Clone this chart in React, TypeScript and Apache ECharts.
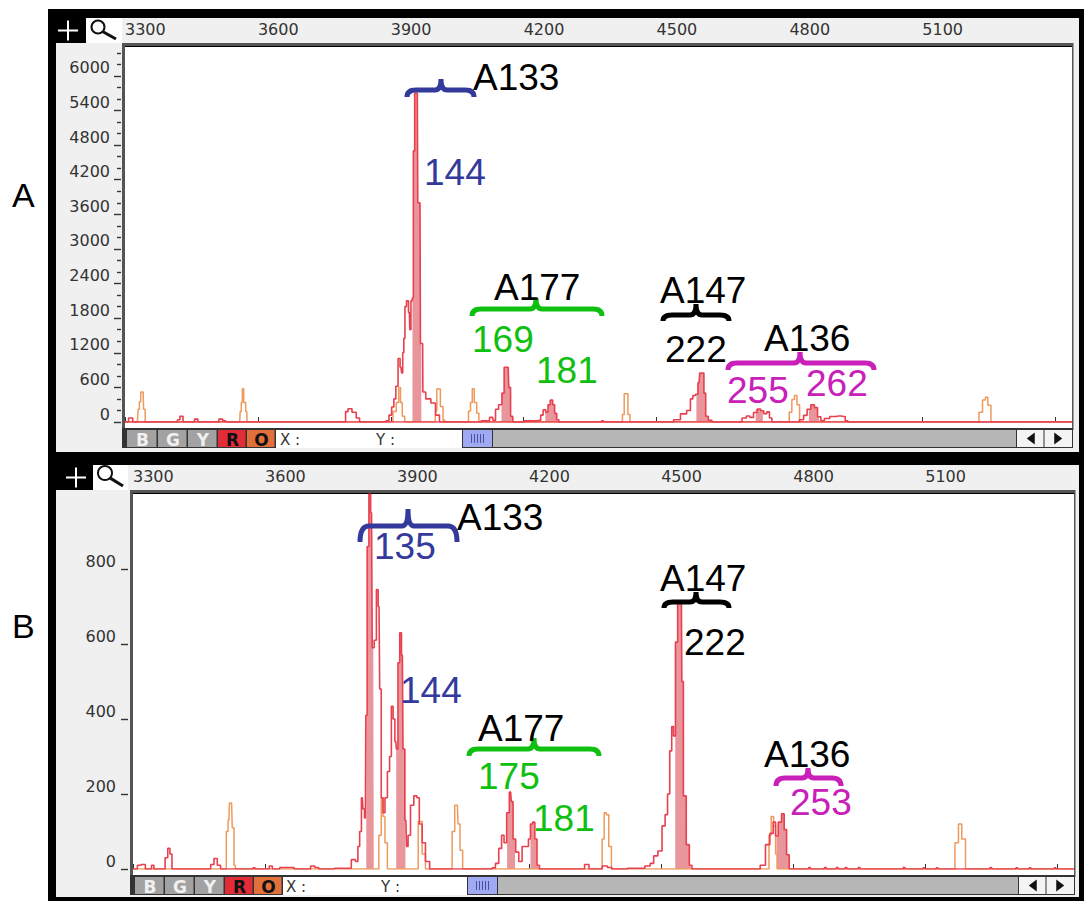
import React, { useEffect, useRef } from "react";
import * as echarts from "echarts";

type P = [number, number];

const xTickValues = [3300, 3600, 3900, 4200, 4500, 4800, 5100, 5400];
const xLabelValues = [3300, 3600, 3900, 4200, 4500, 4800, 5100];
const yTicksA = [0, 600, 1200, 1800, 2400, 3000, 3600, 4200, 4800, 5400, 6000];
const yMinorA = [200, 400, 800, 1000, 1400, 1600, 2000, 2200, 2600, 2800, 3200, 3400, 3800, 4000, 4400, 4600, 5000, 5200, 5600, 5800, 6200, 6400];
const yTicksB = [0, 200, 400, 600, 800];

const redA: P[] = [
  [3300, 0], [3303, 0], [3313, 70], [3322, 0], [3416, 0], [3421, 40], [3427, 100], [3435, 0], [3453, 0], [3461, 50], [3468, 0],
  [3508, 0], [3516, 50], [3525, 20], [3529, 0], [3796, 0], [3800, 180], [3807, 230], [3818, 170], [3826, 70], [3833, 0],
  [3886, 0], [3893, 20], [3899, 120], [3905, 260], [3909, 400], [3914, 620], [3919, 1100], [3923, 950], [3926, 850], [3928, 1200],
  [3931, 1450], [3933, 2000], [3938, 2100], [3942, 1900], [3944, 1600], [3947, 2100], [3950, 2150], [3952, 4700], [3956, 5700],
  [3960, 5700], [3962, 3800], [3966, 3800], [3968, 1360], [3972, 1360], [3973, 520], [3985, 400], [3996, 330], [4006, 120], [4014, 0],
  [4100, 0], [4108, 20], [4119, 20], [4127, 80], [4134, 30], [4139, 220], [4148, 300], [4154, 500], [4158, 950], [4165, 950],
  [4168, 600], [4173, 100], [4178, 0], [4225, 20], [4236, 30], [4241, 120], [4247, 210], [4253, 170], [4257, 300], [4263, 380],
  [4268, 300], [4272, 150], [4277, 40], [4282, 0], [4374, 0], [4378, 20], [4382, 0], [4531, 0], [4546, 40], [4562, 140], [4574, 200],
  [4579, 400], [4585, 460], [4591, 480], [4596, 680], [4599, 850], [4605, 850], [4609, 500], [4613, 100], [4621, 30], [4629, 0],
  [4687, 0], [4699, 70], [4707, 105], [4715, 80], [4723, 165], [4732, 225], [4738, 195], [4746, 145], [4752, 175], [4758, 70], [4763, 0],
  [4817, 0], [4828, 40], [4836, 115], [4844, 220], [4853, 300], [4860, 250], [4867, 90], [4875, 20], [4883, 60], [4899, 95],
  [4911, 105], [4922, 95], [4930, 20], [4934, 0], [5438, 0],
];

const orangeA: P[] = [
  [3300, 0], [3328, 0], [3331, 220], [3334, 350], [3337, 520], [3341, 520], [3343, 220], [3348, 0], [3559, 0], [3561, 180], [3564, 340],
  [3566, 578], [3570, 340], [3575, 180], [3576, 0], [3901, 0], [3909, 180], [3916, 340], [3920, 600], [3924, 340], [3928, 100], [3935, 0],
  [4000, 0], [4003, 190], [4005, 578], [4010, 570], [4014, 270], [4022, 30], [4025, 0], [4073, 0], [4078, 190], [4082, 340],
  [4086, 578], [4091, 340], [4097, 150], [4101, 0], [4421, 0], [4425, 130], [4429, 490], [4433, 490], [4438, 130], [4442, 0],
  [4797, 0], [4802, 170], [4809, 390], [4814, 460], [4820, 300], [4826, 0], [5224, 0], [5232, 170], [5240, 380], [5245, 430], [5251, 290], [5259, 0], [5438, 0],
];

const fillRangesA: P[] = [[3949, 3969], [4150, 4176], [4249, 4276], [4590, 4625], [4724, 4740], [4844, 4867]];

const redB: P[] = [
  [3300, 0], [3306, 0], [3314, 10], [3323, 12], [3333, 0], [3340, 0], [3344, 10], [3351, 0], [3370, 0], [3376, 30], [3382, 55], [3386, 40], [3391, 0],
  [3473, 0], [3480, 12], [3488, 28], [3495, 10], [3503, 0], [3570, 0], [3575, 3], [3580, 0], [3606, 0], [3613, 8], [3620, 0], [3647, 4], [3662, 4], [3670, 0],
  [3700, 0], [3707, 8], [3719, 4], [3725, 0], [3790, 2], [3802, 25], [3809, 20], [3813, 60], [3817, 100], [3821, 190], [3824, 160], [3828, 136],
  [3830, 410], [3834, 860], [3838, 1000], [3842, 950], [3845, 590], [3851, 610], [3855, 745], [3859, 700], [3862, 480], [3866, 190], [3870, 150],
  [3875, 190], [3881, 260], [3885, 300], [3889, 434], [3893, 400], [3897, 340], [3900, 320], [3904, 550], [3908, 630], [3912, 570], [3915, 320],
  [3920, 130], [3923, 60], [3927, 90], [3934, 170], [3942, 195], [3948, 190], [3953, 120], [3961, 70], [3968, 20], [3980, 0],
  [4112, 0], [4120, 3], [4127, 15], [4135, 55], [4140, 90], [4146, 70], [4152, 150], [4158, 205], [4161, 180], [4166, 80], [4173, 45], [4180, 20],
  [4188, 60], [4196, 60], [4201, 80], [4205, 120], [4211, 125], [4215, 80], [4221, 10], [4226, 0], [4321, 0], [4331, 12], [4341, 0], [4360, 0],
  [4372, 8], [4384, 4], [4392, 0], [4455, 2], [4471, 8], [4479, 15], [4487, 35], [4498, 48], [4506, 115], [4512, 145], [4517, 200], [4522, 315], [4526, 380],
  [4530, 355], [4535, 605], [4540, 710], [4546, 710], [4548, 500], [4553, 195], [4561, 65], [4567, 10], [4573, 0], [4719, 0], [4731, 10], [4743, 65],
  [4751, 95], [4758, 125], [4762, 88], [4770, 125], [4777, 147], [4782, 105], [4788, 38], [4794, 0], [4833, 0], [4837, 4], [4841, 0], [4869, 0], [4873, 4], [4877, 0],
  [4896, 0], [4900, 4], [4904, 0], [4916, 0], [4920, 4], [4924, 0], [4946, 0], [4950, 4], [4954, 0], [5048, 0], [5052, 4], [5056, 0], [5093, 0], [5097, 3], [5101, 0],
  [5123, 0], [5127, 3], [5131, 0], [5245, 0], [5249, 4], [5253, 0], [5304, 0], [5308, 3], [5312, 0], [5334, 0], [5338, 3], [5342, 0], [5391, 0], [5395, 3], [5399, 0], [5438, 0],
];

const orangeB: P[] = [
  [3300, 0], [3510, 0], [3514, 100], [3518, 130], [3520, 176], [3524, 176], [3527, 110], [3532, 10], [3535, 0], [3855, 0], [3862, 90], [3866, 190],
  [3870, 140], [3875, 70], [3881, 0], [3946, 0], [3950, 127], [3953, 127], [3961, 40], [3968, 0], [4021, 0], [4029, 100], [4033, 170], [4037, 170],
  [4040, 120], [4046, 50], [4052, 0], [4364, 0], [4368, 80], [4373, 150], [4378, 145], [4384, 60], [4390, 0], [4743, 0], [4747, 90], [4753, 140],
  [4758, 115], [4762, 40], [4766, 0], [5164, 0], [5171, 70], [5180, 120], [5186, 80], [5197, 0], [5438, 0],
];

const fillRangesB: P[] = [[3830, 3847], [3898, 3919], [4150, 4168], [4203, 4222], [4532, 4568], [4762, 4794]];

const BLUE = "#333a9c";
const GREEN = "#10c010";
const MAGENTA = "#c820b8";
const BLACK = "#000000";
const RED = "#e8404e";
const ORANGE = "#ee9a5c";
const PINK = "#e8969c";
const GRAY = "#f0f0f0";

const labels: [string, number, number, string][] = [
  ["A133", 473, 77, BLACK], ["144", 424, 172, BLUE], ["A177", 494, 287, BLACK], ["169", 472, 339, GREEN], ["181", 536, 370, GREEN],
  ["A147", 660, 290, BLACK], ["222", 665, 349, BLACK], ["A136", 764, 338, BLACK], ["255", 727, 390, MAGENTA], ["262", 806, 383, MAGENTA],
  ["A133", 457, 517, BLACK], ["135", 374, 546, BLUE], ["144", 400, 690, BLUE], ["A177", 478, 728, BLACK], ["175", 478, 776, GREEN], ["181", 533, 818, GREEN],
  ["A147", 660, 578, BLACK], ["222", 684, 642, BLACK], ["A136", 764, 754, BLACK], ["253", 790, 802, MAGENTA],
];

// x0, x1, tipX, tipY, barY, endY
const braces: [number, number, number, number, number, number, string][] = [
  [407, 474, 441, 79, 90, 97, BLUE], [472, 602, 536, 298, 309, 316, GREEN], [663, 729, 696, 304, 315, 321, BLACK], [728, 874, 800, 352, 363, 370, MAGENTA],
  [360, 457, 408, 509, 526, 542, BLUE], [469, 599, 534, 738, 749, 756, GREEN], [664, 729, 696, 592, 602, 608, BLACK], [776, 841, 808, 768, 778, 786, MAGENTA],
];

function fillOf(trace: P[], range: P): P[] {
  const inner = trace.filter((p) => p[0] >= range[0] && p[0] <= range[1]);
  const first = inner[0][1];
  const last = inner[inner.length - 1][1];
  return [[range[0], 0], [range[0], first], ...inner, [range[1], last], [range[1], 0]];
}

const F_MONO = '"DejaVu Sans"';
const F_TEXT = '"Liberation Sans"';

function rect(x: number, y: number, w: number, h: number, fill: string, z = -5): any {
  return { type: "rect", z, silent: true, shape: { x, y, width: w, height: h }, style: { fill } };
}
function text(t: string, x: number, y: number, size: number, fill: string, family: string, weight = "normal", align = "left", z = 100): any {
  return { type: "text", z, silent: true, style: { text: t, x, y, fill, fontSize: size, fontFamily: family, fontWeight: weight, align, verticalAlign: "middle" } };
}
function seg(x1: number, y1: number, x2: number, y2: number, stroke: string, w: number, z = -3): any {
  return { type: "line", z, silent: true, shape: { x1, y1, x2, y2 }, style: { stroke, lineWidth: w } };
}

function panelChrome(c: {
  headerTop: number; headerBottom: number; plusRight: number; magLeft: number; magRight: number; plotLeft: number; plotTop: number; plotRight: number;
  toolbarTop: number; toolbarBottom: number; bottom: number; btns: number[]; fieldRight: number; thumbRight: number; scrollRight: number; xLbl: number; yLbl: number;
  plusX: number; magCx: number; magCy: number; magR: number; magEndX: number; magEndY: number;
}): any[] {
  const out: any[] = [];
  const cy = (c.headerTop + c.headerBottom) / 2;
  out.push(rect(56, c.headerBottom, c.plotLeft - 56, c.bottom - c.headerBottom, GRAY));
  out.push(rect(c.magRight, c.headerTop, 1079 - c.magRight, c.headerBottom - c.headerTop + 2, GRAY));
  out.push(rect(c.plotRight, c.headerBottom, 1079 - c.plotRight, c.bottom - c.headerBottom, GRAY));
  out.push(rect(c.plotLeft, c.toolbarBottom, c.plotRight - c.plotLeft, c.bottom - c.toolbarBottom, GRAY));
  out.push(rect(c.magLeft, c.headerTop, c.magRight - c.magLeft, c.headerBottom - c.headerTop, "#ffffff"));
  out.push(seg(c.plusX - 10, cy, c.plusX + 10, cy, "#ffffff", 2));
  out.push(seg(c.plusX, cy - 10, c.plusX, cy + 10, "#ffffff", 2));
  out.push({ type: "circle", z: -3, silent: true, shape: { cx: c.magCx, cy: c.magCy, r: c.magR }, style: { fill: "none", stroke: "#111111", lineWidth: 2 } });
  out.push(seg(c.magCx + c.magR * 0.7, c.magCy + c.magR * 0.7, c.magEndX, c.magEndY, "#111111", 3));
  // plot frame
  out.push(rect(c.plotLeft - 3, c.headerBottom, c.plotRight - c.plotLeft + 4, 3, "#555555"));
  out.push(rect(c.plotLeft - 3, c.headerBottom, 3, c.toolbarBottom - c.headerBottom, "#555555"));
  out.push(rect(c.plotRight, c.headerBottom, 1.5, c.toolbarTop - c.headerBottom, "#555555"));
  out.push(rect(c.plotLeft, c.plotTop, c.plotRight - c.plotLeft, c.toolbarTop - c.plotTop, "#ffffff"));
  // toolbar
  const tbh = c.toolbarBottom - c.toolbarTop;
  out.push(rect(c.plotLeft - 3, c.toolbarTop - 2, c.plotRight - c.plotLeft + 4, tbh + 3, "#333333"));
  const names = ["B", "G", "Y", "R", "O"];
  const fills = ["#a2a2a2", "#a2a2a2", "#a2a2a2", "#e22c38", "#e2703a"];
  const inks = ["#f0f0f0", "#f0f0f0", "#f0f0f0", "#111111", "#111111"];
  names.forEach((n, i) => {
    const l = c.btns[i];
    const r = c.btns[i + 1];
    out.push(rect(l, c.toolbarTop, r - l - 1.5, tbh, fills[i], -2));
    out.push(text(n, (l + r) / 2, c.toolbarTop + tbh / 2 + 1, 17, inks[i], F_MONO, "bold", "center"));
  });
  const fl = c.btns[5];
  out.push(rect(fl, c.toolbarTop, c.fieldRight - fl, tbh + 1, "#ffffff", -2));
  out.push(text("X :", c.xLbl, c.toolbarTop + tbh / 2 + 1, 15, "#333333", F_MONO));
  out.push(text("Y :", c.yLbl, c.toolbarTop + tbh / 2 + 1, 15, "#333333", F_MONO));
  out.push(rect(c.fieldRight + 1, c.toolbarTop, c.thumbRight - c.fieldRight - 2, tbh, "#a0aaf2", -2));
  const mid = (c.fieldRight + c.thumbRight) / 2;
  for (const d of [-6, -3, 0, 3, 6]) out.push(seg(mid + d, c.toolbarTop + 4, mid + d, c.toolbarBottom - 4, "#4a52a0", 1, -1));
  out.push(rect(c.thumbRight, c.toolbarTop, c.scrollRight - c.thumbRight, tbh, "#b6b6b6", -2));
  const a1 = c.scrollRight + 1;
  const a2 = (c.scrollRight + c.plotRight) / 2 + 0.5;
  out.push(rect(a1, c.toolbarTop, a2 - a1 - 1, tbh, "#f4f4f4", -2));
  out.push(rect(a2, c.toolbarTop, c.plotRight - a2, tbh, "#f4f4f4", -2));
  const my = c.toolbarTop + tbh / 2;
  const ax = (a1 + a2) / 2;
  const bx = (a2 + c.plotRight) / 2;
  out.push({ type: "polygon", z: -1, silent: true, shape: { points: [[ax - 4, my], [ax + 4, my - 6], [ax + 4, my + 6]] }, style: { fill: "#111111" } });
  out.push({ type: "polygon", z: -1, silent: true, shape: { points: [[bx + 4, my], [bx - 4, my - 6], [bx - 4, my + 6]] }, style: { fill: "#111111" } });
  return out;
}

function traceSeries(id: string, data: P[], color: string, xi: number, yi: number, width: number): any {
  return {
    id, type: "line", xAxisIndex: xi, yAxisIndex: yi, data, step: "middle", showSymbol: false, symbol: "none",
    lineStyle: { color, width }, z: 3, silent: true,
  };
}
function fillSeries(id: string, data: P[], xi: number, yi: number): any {
  return {
    id, type: "line", xAxisIndex: xi, yAxisIndex: yi, data, step: "middle", showSymbol: false, symbol: "none",
    lineStyle: { width: 0, color: PINK }, areaStyle: { color: PINK, opacity: 1 }, z: 2, silent: true,
  };
}

function xAxisOf(gridIndex: number): any {
  return {
    type: "value", gridIndex, position: "top", min: 3300, max: 5438, offset: 4, splitLine: { show: false },
    axisLine: { show: false },
    axisTick: { show: true, inside: false, length: 5, lineStyle: { color: "#333333", width: 1 }, customValues: xTickValues },
    axisLabel: { customValues: xLabelValues, align: "left", margin: 6, color: "#333333", fontSize: 16, fontFamily: F_MONO, formatter: (v: number) => String(v) },
  };
}
function yAxisOf(gridIndex: number, max: number, ticks: number[], offset: number, len: number, margin: number, showLabel: boolean): any {
  return {
    type: "value", gridIndex, position: "left", min: 0, max, offset, splitLine: { show: false }, axisLine: { show: false },
    axisTick: { show: true, length: len, lineStyle: { color: "#333333", width: 1.4 }, customValues: ticks },
    axisLabel: showLabel
      ? { customValues: ticks, align: "right", verticalAlign: "bottom", margin, color: "#333333", fontSize: 16, fontFamily: F_MONO, formatter: (v: number) => String(v) }
      : { show: false },
  };
}

export default function App() {
  const ref = useRef<HTMLDivElement>(null);
  useEffect(() => {
    document.body.style.margin = "0";
    const chart = echarts.init(ref.current!, undefined, { renderer: "svg" });
    const braceEls = braces.map((b, i) => {
      const [x0, x1, tx, ty, by, ey, color] = b;
      const r = Math.min(9, (by - ty) + 2);
      const d = `M${x0} ${ey}Q${x0} ${by} ${x0 + r} ${by}L${tx - 6} ${by}Q${tx} ${by} ${tx} ${ty}Q${tx} ${by} ${tx + 6} ${by}L${x1 - r} ${by}Q${x1} ${by} ${x1} ${ey}`;
      const name = "brace" + i;
      echarts.graphic.registerShape(name, echarts.graphic.extendPath(d, {}) as any);
      return { type: name, z: 90, silent: true, style: { fill: "none", stroke: color, lineWidth: 5 } };
    });
    const chromeA = panelChrome({
      headerTop: 18, headerBottom: 43, plusRight: 83, magLeft: 86, magRight: 122, plotLeft: 125, plotTop: 47, plotRight: 1072,
      toolbarTop: 430, toolbarBottom: 447, bottom: 452, btns: [127, 158, 188, 218, 247, 276], fieldRight: 462, thumbRight: 493, scrollRight: 1016,
      xLbl: 280, yLbl: 376, plusX: 68, magCx: 98, magCy: 27, magR: 6.5, magEndX: 116, magEndY: 39,
    });
    const chromeB = panelChrome({
      headerTop: 465, headerBottom: 490, plusRight: 91, magLeft: 93, magRight: 128, plotLeft: 133, plotTop: 494, plotRight: 1074,
      toolbarTop: 877, toolbarBottom: 894, bottom: 897, btns: [135, 165, 195, 225, 254, 283], fieldRight: 467, thumbRight: 498, scrollRight: 1018,
      xLbl: 286, yLbl: 381, plusX: 76, magCx: 105, magCy: 473, magR: 7, magEndX: 123, magEndY: 486,
    });
    const option: any = {
      animation: false,
      backgroundColor: "#ffffff",
      textStyle: { fontFamily: F_MONO },
      grid: [
        { left: 125, top: 47, width: 947, height: 375, containLabel: false },
        { left: 133, top: 494, width: 941, height: 375, containLabel: false },
      ],
      xAxis: [xAxisOf(0), xAxisOf(1)],
      yAxis: [
        yAxisOf(0, 6500, yTicksA, 4, 7, 11, true),
        yAxisOf(0, 6500, yMinorA, 4, 4, 11, false),
        yAxisOf(1, 1000, yTicksB, 5, 7, 12, true),
      ],
      series: [
        ...fillRangesA.map((r, i) => fillSeries("fa" + i, fillOf(redA, r), 0, 0)),
        ...fillRangesB.map((r, i) => fillSeries("fb" + i, fillOf(redB, r), 1, 2)),
        traceSeries("orangeA", orangeA, ORANGE, 0, 0, 1.5),
        traceSeries("redA", redA, RED, 0, 0, 1.6),
        traceSeries("minorHolder", [[3300, 0], [5438, 0]], RED, 0, 1, 1.6),
        traceSeries("orangeB", orangeB, ORANGE, 1, 2, 1.5),
        traceSeries("redB", redB, RED, 1, 2, 1.6),
      ],
      graphic: {
        elements: [
          rect(48, 9, 1036, 892, "#000000", -9),
          ...chromeA,
          ...chromeB,
          ...braceEls,
          ...labels.map((l) => text(l[0], l[1], l[2], 37, l[3], F_TEXT)),
          text("A", 12, 195, 34, BLACK, F_TEXT),
          text("B", 12, 626, 34, BLACK, F_TEXT),
        ],
      },
    };
    chart.setOption(option);
    return () => chart.dispose();
  }, []);
  return <div ref={ref} style={{ position: "absolute", left: 0, top: 0, width: 1084, height: 901, background: "#fff" }} />;
}
